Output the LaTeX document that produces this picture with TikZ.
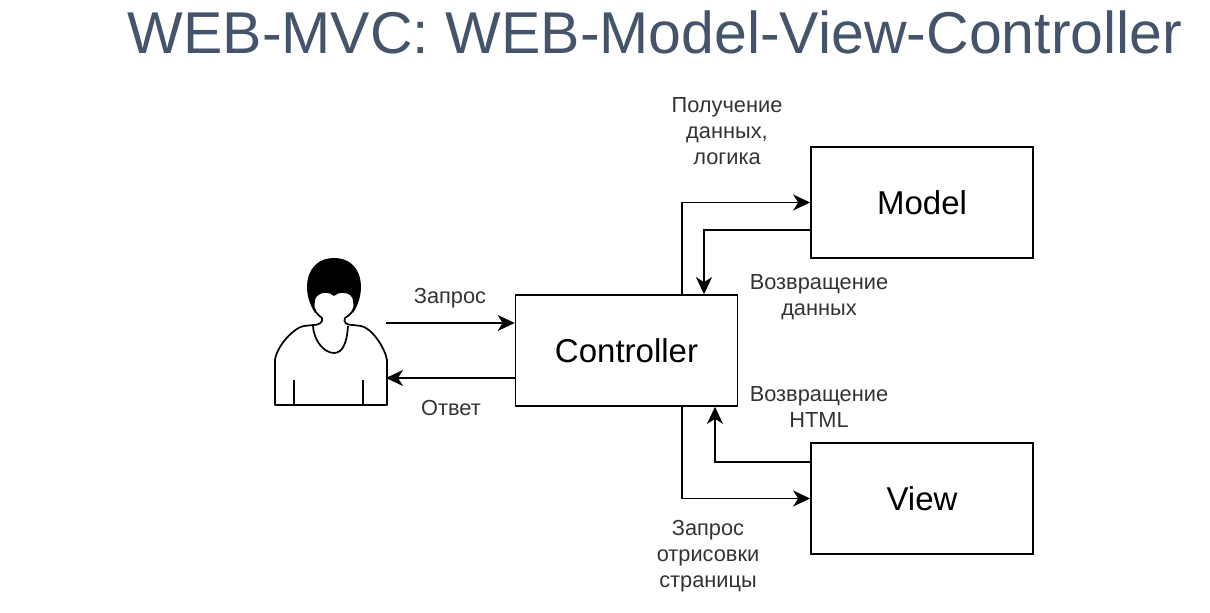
\documentclass[tikz,border=0pt]{standalone}
\usepackage{fontspec}
\setmainfont{Liberation Sans}
\usetikzlibrary{arrows.meta}
\definecolor{titlecol}{HTML}{44546A}
\definecolor{lblcol}{HTML}{333333}
\tikzset{
    blockbox/.style = {draw, line width=1.7pt, minimum width=222pt, minimum height=111pt,
        inner sep=0pt, font=\fontsize{33}{38}\selectfont},
    lbl/.style = {align=center, inner sep=0pt, text=lblcol, font=\fontsize{21.8}{26}\selectfont},
    link/.style = {line width=1.7pt, -{Stealth[length=17pt,width=16pt,inset=5pt]}},
    figline/.style = {line width=1.7pt, line join=round}
}
\begin{document}
\begin{tikzpicture}[x=1pt,y=-1pt]
\useasboundingbox (0,0) rectangle (1210,613);
\node[text=titlecol, inner sep=0pt, font=\fontsize{59}{64}\selectfont] (title) at (655,32) {WEB-MVC: WEB-Model-View-Controller};

\node[blockbox] (controller) at (626.5,350.5) {Controller};
\node[blockbox] (model) at (922,202.5) {Model};
\node[blockbox] (view) at (922,498.5) {View};

% person
\draw[figline, fill=white] (275,405) -- (275,360) .. controls (277,345) and (295,327) .. (304,326)
    -- (313,325) .. controls (320,325) and (323,322) .. (322,318)
    .. controls (318,315) and (312,310) .. (314,302)
    .. controls (314,295) and (320,292) .. (325,292)
    .. controls (329,292) and (332,293) .. (334,295)
    .. controls (336,293) and (339,292) .. (343,292)
    .. controls (350,292) and (354,296) .. (354,302)
    .. controls (356,310) and (350,315) .. (345,318)
    .. controls (343,322) and (346,325) .. (353,325)
    -- (361,326) .. controls (372,328) and (385,348) .. (387,360) -- (387,405) -- cycle;
\fill (315,313) .. controls (300,290) and (306,258) .. (334,258)
    .. controls (362,258) and (368,290) .. (353,313)
    .. controls (356,300) and (354,292) .. (343,292)
    .. controls (339,292) and (336,293) .. (334,295)
    .. controls (332,293) and (329,292) .. (325,292)
    .. controls (314,292) and (312,300) .. (315,313) -- cycle;
\draw[figline] (313,326) .. controls (314,342) and (325,353) .. (334,353)
    .. controls (343,353) and (347,342) .. (348,326);
\draw[figline] (294,380) -- (294,405);
\draw[figline] (363,380) -- (363,405);

\coordinate (personin) at (386,323);
\coordinate (personout) at (386,378);
\draw[link] (personin) -- (controller.west |- personin);
\draw[link] (controller.west |- personout) -- (personout);

\coordinate (ctrlup) at (682,202.5);
\coordinate (modelback) at (704,230);
\coordinate (viewback) at (715,462);
\coordinate (ctrldown) at (682,498.5);
\draw[link] (ctrlup |- controller.north) -- (ctrlup) -- (model.west);
\draw[link] (model.west |- modelback) -- (modelback) -- (modelback |- controller.north);
\draw[link] (view.west |- viewback) -- (viewback) -- (viewback |- controller.south);
\draw[link] (ctrldown |- controller.south) -- (ctrldown) -- (view.west);

\node[lbl] (lblrequest) at (450,298) {Запрос};
\node[lbl] (lblanswer) at (451,408) {Ответ};
\node[lbl] (lblget) at (727,131) {Получение\\данных,\\логика};
\node[lbl] (lbldata) at (819,297) {Возвращение\\данных};
\node[lbl] (lblhtml) at (819,407) {Возвращение\\HTML};
\node[lbl] (lblrender) at (708,556) {Запрос\\отрисовки\\страницы};
\end{tikzpicture}
\end{document}
